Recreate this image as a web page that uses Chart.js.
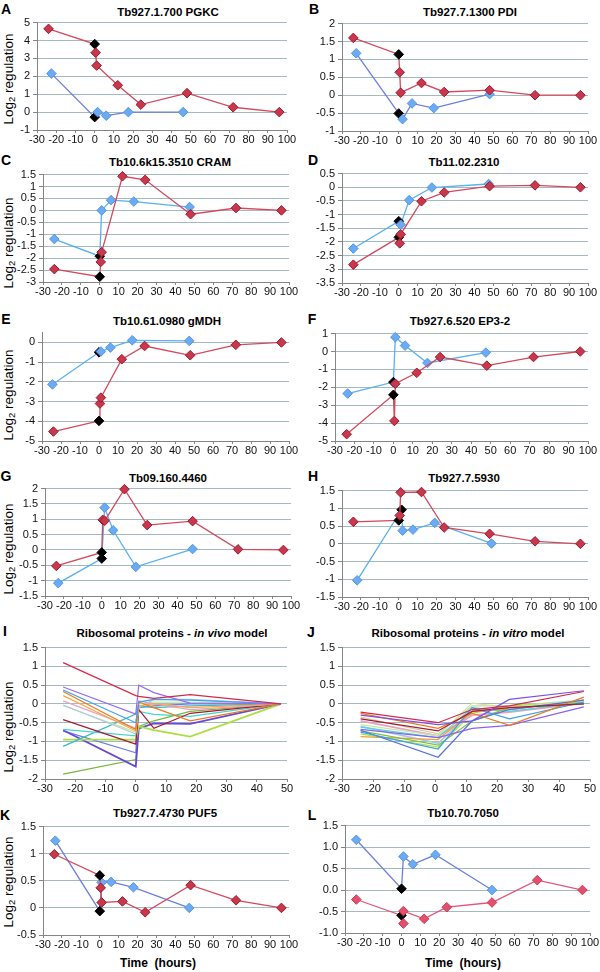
<!DOCTYPE html>
<html><head><meta charset="utf-8">
<script src="https://cdn.jsdelivr.net/npm/chart.js@4.4.1/dist/chart.umd.min.js"></script>
<style>
body{margin:0;background:#fff;width:600px;height:972px;position:relative;overflow:hidden;font-family:'Liberation Sans',Arial,sans-serif;color:#000}
canvas{position:absolute}
.t{position:absolute;font-weight:bold;font-size:11.5px;white-space:nowrap;transform:translate(-50%,-50%)}
.lt{position:absolute;font-weight:bold;font-size:14px;transform:translate(-50%,-50%)}
.yl{position:absolute;font-size:13.5px;white-space:nowrap;transform:translate(-50%,-50%) rotate(-90deg)}
.xl{position:absolute;font-weight:bold;font-size:12px;white-space:pre;transform:translate(-50%,-50%)}
sub{font-size:0.7em;vertical-align:-0.25em;line-height:0}
</style></head><body>

<div class="lt" style="left:6px;top:9px">A</div>
<div class="lt" style="left:314px;top:9px">B</div>
<div class="lt" style="left:6px;top:160px">C</div>
<div class="lt" style="left:313px;top:160px">D</div>
<div class="lt" style="left:6px;top:319px">E</div>
<div class="lt" style="left:312px;top:319px">F</div>
<div class="lt" style="left:6px;top:476px">G</div>
<div class="lt" style="left:313px;top:476px">H</div>
<div class="lt" style="left:5px;top:631px">I</div>
<div class="lt" style="left:311px;top:632px">J</div>
<div class="lt" style="left:5px;top:815px">K</div>
<div class="lt" style="left:312px;top:815px">L</div>

<div class="t" style="left:168px;top:12px">Tb927.1.700 PGKC</div>
<div class="t" style="left:470px;top:12px">Tb927.7.1300 PDI</div>
<div class="t" style="left:170px;top:162px">Tb10.6k15.3510 CRAM</div>
<div class="t" style="left:464px;top:162px">Tb11.02.2310</div>
<div class="t" style="left:167px;top:321px">Tb10.61.0980 gMDH</div>
<div class="t" style="left:460px;top:321px">Tb927.6.520 EP3-2</div>
<div class="t" style="left:168px;top:478px">Tb09.160.4460</div>
<div class="t" style="left:464px;top:478px">Tb927.7.5930</div>
<div class="t" style="left:172px;top:633px">Ribosomal proteins - <i>in vivo</i> model</div>
<div class="t" style="left:468px;top:633px">Ribosomal proteins - <i>in vitro</i> model</div>
<div class="t" style="left:165px;top:813px">Tb927.7.4730 PUF5</div>
<div class="t" style="left:463px;top:813px">Tb10.70.7050</div>

<div class="yl" style="left:8px;top:79px">Log<sub>2</sub> regulation</div>
<div class="yl" style="left:8px;top:243px">Log<sub>2</sub> regulation</div>
<div class="yl" style="left:8px;top:395px">Log<sub>2</sub> regulation</div>
<div class="yl" style="left:8px;top:549px">Log<sub>2</sub> regulation</div>
<div class="yl" style="left:8px;top:727px">Log<sub>2</sub> regulation</div>
<div class="yl" style="left:8px;top:882px">Log<sub>2</sub> regulation</div>

<div class="xl" style="left:158px;top:963px">Time  (hours)</div>
<div class="xl" style="left:463px;top:963px">Time  (hours)</div>

<script>
// ---------------- DATA ----------------
const xTicksLong  = [-30,-20,-10,0,10,20,30,40,50,60,70,80,90,100];
const xTicksShort = [-30,-20,-10,0,10,20,30,40,50];

// [time (h), log2 regulation]; second point of each series = time-zero reference (black)
const A_vivo  = [[-24,4.65],[0,3.8],[0.5,3.32],[1,2.6],[12,1.5],[24,0.42],[48,1.06],[72,0.27],[96,0]];
const A_vitro = [[-22.5,2.15],[0,-0.28],[1.5,0],[6,-0.2],[17.5,0],[46,0]];
const A_yTicks = [-1,0,1,2,3,4,5];

const B_vivo  = [[-24,1.6],[0,1.14],[0.5,0.64],[1,0.07],[12,0.34],[24,0.09],[48,0.14],[72,0],[96,0]];
const B_vitro = [[-22.5,1.17],[0,-0.51],[2,-0.67],[7,-0.23],[18.5,-0.36],[48,0.03]];
const B_yTicks = [-1,-0.5,0,0.5,1,1.5,2];

const C_vivo  = [[-24,-2.46],[0,-2.78],[0.5,-2.16],[1,-1.75],[12,1.43],[24,1.28],[48,-0.16],[72,0.1],[96,0]];
const C_vitro = [[-24,-1.2],[0,-1.92],[1,0],[6,0.43],[18,0.37],[47.5,0.14]];
const C_yTicks = [-3,-2.5,-2,-1.5,-1,-0.5,0,0.5,1,1.5];

const D_vivo  = [[-24,-2.83],[0,-1.83],[0.5,-2.05],[1,-1.72],[12,-0.51],[24,-0.19],[48,0.04],[72,0.07],[96,0]];
const D_vitro = [[-24,-2.24],[0,-1.24],[1,-1.37],[5.5,-0.47],[17.5,-0.01],[47.5,0.12]];
const D_yTicks = [-3.5,-3,-2.5,-2,-1.5,-1,-0.5,0,0.5];

const E_vivo  = [[-24,-4.52],[0,-3.98],[0.5,-3.1],[1,-2.8],[12,-0.85],[24,-0.18],[48,-0.65],[72,-0.12],[96,0]];
const E_vitro = [[-24.5,-2.13],[0,-0.5],[1,-0.46],[6,-0.26],[17.5,0.11],[47.5,0.08]];
const E_yTicks = [-5,-4,-3,-2,-1,0];
const E_yMax = 0.5;

const F_vivo  = [[-24,-4.62],[0,-2.42],[0.5,-3.88],[1,-1.8],[12,-1.19],[24,-0.31],[48,-0.79],[72,-0.31],[96,0]];
const F_vitro = [[-23.5,-2.35],[0,-1.71],[1,0.8],[6,0.33],[17.5,-0.64],[47.5,-0.06]];
const F_yTicks = [-5,-4,-3,-2,-1,0,1];

const G_vivo  = [[-24,-0.52],[0,-0.08],[0.5,0.98],[1.5,0.95],[12,1.98],[24,0.81],[48,0.94],[72,0.02],[96,0]];
const G_vitro = [[-23,-1.08],[0,-0.28],[1.5,1.38],[6,0.64],[18,-0.55],[48,0.03]];
const G_yTicks = [-1.5,-1,-0.5,0,0.5,1,1.5,2];

const H_vivo  = [[-24,0.62],[0,0.66],[0.5,0.8],[1,1.45],[12,1.46],[24,0.46],[48,0.28],[72,0.07],[96,0]];
const H_vitro = [[-22,-1.03],[1.5,0.96],[2,0.37],[7.5,0.4],[19,0.59],[49,0.01]];
const H_yTicks = [-1.5,-1,-0.5,0,0.5,1,1.5];

const K_vivo  = [[-24,0.99],[0,0.6],[0.5,0.37],[1,0.1],[12,0.12],[24,-0.08],[48,0.42],[72,0.14],[96,0]];
const K_vitro = [[-23.5,1.24],[0,-0.06],[1,0.47],[6,0.48],[17.8,0.38],[47.3,0]];
const K_yTicks = [-0.5,0,0.5,1,1.5];

const L_vivo  = [[-24,-0.22],[0,-0.59],[1,-0.78],[1,-0.49],[12,-0.67],[24,-0.4],[48,-0.29],[72,0.23],[96,0]];
const L_vitro = [[-24,1.17],[0,0.03],[1,0.78],[6,0.6],[18,0.82],[48,0]];
const L_yTicks = [-1,-0.5,0,0.5,1,1.5];

// Ribosomal proteins, in vivo model
const tVivo = [-24,0,1,6,18,48];
const vivo01 = [1.1,0.22,0.2,0.15,0.25,0];
const vivo02 = [0.45,-0.27,0.5,0.3,0.02,0];
const vivo03 = [0.37,-0.5,0.05,0.12,0.1,0];
const vivo04 = [0.33,-0.68,0.05,-0.1,-0.45,0];
const vivo05 = [0.22,-0.72,-0.05,0.0,-0.1,0];
const vivo06 = [0.08,-0.65,0.08,0.0,-0.15,0];
const vivo07 = [-0.03,-0.8,-0.1,0.12,0.12,0];
const vivo08 = [-0.05,-0.75,0.0,0.05,0.05,0];
const vivo09 = [-0.42,-1.07,-0.15,-0.65,-0.25,0];
const vivo10 = [-0.68,-0.85,-0.2,-0.28,-0.33,0];
const vivo11 = [-1.13,-0.27,-0.05,-0.1,-0.05,0];
const vivo12 = [-0.95,-0.95,-0.6,-0.7,-0.87,0];
const vivo13 = [-0.7,-1.67,-0.65,-0.52,-0.53,0];
const vivo14 = [-0.72,-1.3,-0.1,-0.05,0.0,0];
const vivo15 = [-1.87,-1.48,-0.6,-0.45,-0.2,0];
const I_yTicks = [-2,-1.5,-1,-0.5,0,0.5,1,1.5];

// Ribosomal proteins, in vitro model
const tVitro = [-24,1,12,24,48];
const vitro01 = [-0.22,-0.5,-0.15,-0.05,0.33];
const vitro02 = [-0.3,-0.55,-0.45,0.12,0.35];
const vitro03 = [-0.4,-0.72,-0.2,-0.1,0.0];
const vitro04 = [-0.25,-0.65,-0.25,-0.57,0.18];
const vitro05 = [-0.68,-0.9,-0.65,-0.57,-0.08];
const vitro06 = [-0.75,-1.2,-0.1,-0.4,0.05];
const vitro07 = [-0.7,-1.42,-0.45,-0.15,0.1];
const vitro08 = [-0.55,-0.85,0.02,-0.1,0.1];
const vitro09 = [-0.72,-1.1,-0.45,-0.1,0.0];
const vitro10 = [-0.62,-0.9,-0.1,-0.2,0.05];
const vitro11 = [-0.87,-0.95,-0.2,-0.15,0.1];
const vitro12 = [-0.45,-0.85,-0.3,-0.22,0.02];
const vitro13 = [-0.6,-1.05,-0.2,-0.1,0.0];
const vitro14 = [-0.8,-1.15,-0.25,-0.05,0.05];
const vitro15 = [-0.35,-0.8,-0.05,-0.05,0.1];
const J_yTicks = [-2,-1.5,-1,-0.5,0,0.5,1,1.5];

// ---------------- STYLE ----------------
const AX = '#858585', GRID = '#a3bac0', TXT = '#111';
const FONTF = "'Liberation Sans', Arial, sans-serif";
const RED = {line:'#d4495d', fill:'#c8374b', edge:'#9c1a2d'};
const REDL = {line:'#e5557a', fill:'#e2506d', edge:'#c83a58'};
const BLUEMK = {fill:'#6aabf3', edge:'#5596e4'};
const BLUE_V = '#6b7fe0', BLUE_C = '#58b0f0';
const vivoColors = ['#d42a4a','#9a6cf0','#3aa0f0','#f07a1a','#f8a848','#e8a0c8','#a8c8e8','#c8e89a','#a81a32','#40d8d0','#38b8c8','#a8e040','#6848d8','#6a7ae8','#78b838'];
const vitroColors = ['#d42a4a','#7a50e8','#a81a32','#f07a1a','#8a62f0','#3aa0f0','#5070e0','#c8e89a','#80c040','#50d8d8','#f0a030','#e8a0c8','#a8c8e8','#b0e040','#c8d4a8'];

function markSeries(pts, lineCol, mk, order) {
  return {
    data: pts.map(p => ({x: p[0], y: p[1]})),
    borderColor: lineCol, borderWidth: 1.3,
    pointStyle: 'rectRot', pointRadius: 4.8, pointHoverRadius: 4.8,
    pointBackgroundColor: c => c.dataIndex === 1 ? '#000' : mk.fill,
    pointBorderColor: c => c.dataIndex === 1 ? '#000' : mk.edge,
    pointBorderWidth: 1, tension: 0, clip: false, order
  };
}
function plainSeries(ts, vals, col, i) {
  return {data: ts.map((t, k) => ({x: t, y: vals[k]})), borderColor: col,
    borderWidth: (i === 11 || i === 12) ? 1.8 : 1.2, pointRadius: 0, tension: 0, clip: false, order: i};
}

function panel(p) {
  const padL = 46, padT = 8, padR = 14, padB = 22;
  const w = Math.round(p.r - p.l + padL + padR), h = Math.round(p.b - p.t + padT + padB);
  const cv = document.createElement('canvas');
  cv.width = w; cv.height = h;
  cv.style.width = w + 'px'; cv.style.height = h + 'px';
  cv.style.left = (p.l - padL) + 'px'; cv.style.top = (p.t - padT) + 'px';
  document.body.appendChild(cv);
  const font = {family: FONTF, size: 11};
  new Chart(cv, {
    type: 'line',
    data: {datasets: p.datasets},
    options: {
      responsive: false, animation: false, events: [],
      layout: {padding: {top: padT, right: padR, left: 0, bottom: 0}},
      plugins: {legend: {display: false}, tooltip: {enabled: false}, title: {display: false}},
      scales: {
        x: {type: 'linear', min: p.xt[0], max: p.xt[p.xt.length - 1],
          afterFit: s => { s.height = padB; },
          afterBuildTicks: s => { s.ticks = p.xt.map(v => ({value: v})); },
          ticks: {autoSkip: false, maxRotation: 0, minRotation: 0, font, color: TXT, padding: 0, callback: v => String(v)},
          grid: {drawOnChartArea: false, drawTicks: true, tickLength: 3, color: AX},
          border: {display: true, color: AX, width: 1}},
        y: {type: 'linear', min: p.yt[0], max: p.yMax !== undefined ? p.yMax : p.yt[p.yt.length - 1],
          afterFit: s => { s.width = padL; },
          afterBuildTicks: s => { s.ticks = p.yt.map(v => ({value: v})); },
          ticks: {autoSkip: false, font, color: TXT, padding: 3,
            callback: v => p.dec ? v.toFixed(p.dec) : String(v)},
          grid: {drawTicks: true, tickLength: 4, color: GRID, tickColor: AX, lineWidth: 1},
          border: {display: true, color: AX, width: 1}}
      }
    }
  });
}

const pairs = (vivo, vitro, blueLine, red) => [markSeries(vivo, (red||RED).line, red||RED, 0), markSeries(vitro, blueLine, BLUEMK, 1)];

panel({l:37, r:287, t:20.7, b:130, xt:xTicksLong, yt:A_yTicks, datasets: pairs(A_vivo, A_vitro, BLUE_V)});
panel({l:342, r:587.6, t:21.7, b:131, xt:xTicksLong, yt:B_yTicks, datasets: pairs(B_vivo, B_vitro, BLUE_V)});
panel({l:42.5, r:288.6, t:173.3, b:282.7, xt:xTicksLong, yt:C_yTicks, datasets: pairs(C_vivo, C_vitro, BLUE_C)});
panel({l:342, r:587.6, t:172.3, b:283, xt:xTicksLong, yt:D_yTicks, datasets: pairs(D_vivo, D_vitro, BLUE_C)});
panel({l:42, r:288.6, t:330.7, b:440.7, xt:xTicksLong, yt:E_yTicks, yMax:E_yMax, datasets: pairs(E_vivo, E_vitro, BLUE_C)});
panel({l:334.6, r:587.8, t:331.7, b:440.7, xt:xTicksLong, yt:F_yTicks, datasets: pairs(F_vivo, F_vitro, BLUE_C)});
panel({l:44.6, r:290.3, t:487.3, b:596, xt:xTicksLong, yt:G_yTicks, datasets: pairs(G_vivo, G_vitro, BLUE_C)});
panel({l:342, r:587.6, t:489, b:597.3, xt:xTicksLong, yt:H_yTicks, datasets: pairs(H_vivo, H_vitro, BLUE_C)});

const vivoAll = [vivo01,vivo02,vivo03,vivo04,vivo05,vivo06,vivo07,vivo08,vivo09,vivo10,vivo11,vivo12,vivo13,vivo14,vivo15];
const vitroAll = [vitro01,vitro02,vitro03,vitro04,vitro05,vitro06,vitro07,vitro08,vitro09,vitro10,vitro11,vitro12,vitro13,vitro14,vitro15];
panel({l:45, r:287.3, t:645.7, b:779, xt:xTicksShort, yt:I_yTicks,
  datasets: vivoAll.map((v, i) => plainSeries(tVivo, v, vivoColors[i], i))});
panel({l:341.7, r:590, t:645.7, b:779, xt:xTicksShort, yt:J_yTicks,
  datasets: vitroAll.map((v, i) => plainSeries(tVitro, v, vitroColors[i], i))});

panel({l:43, r:289, t:825, b:935, xt:xTicksLong, yt:K_yTicks, datasets: pairs(K_vivo, K_vitro, BLUE_V)});
panel({l:345.4, r:590.2, t:824.3, b:933.3, xt:xTicksLong, yt:L_yTicks, dec:1, datasets: pairs(L_vivo, L_vitro, BLUE_V, REDL)});
</script>
</body></html>
